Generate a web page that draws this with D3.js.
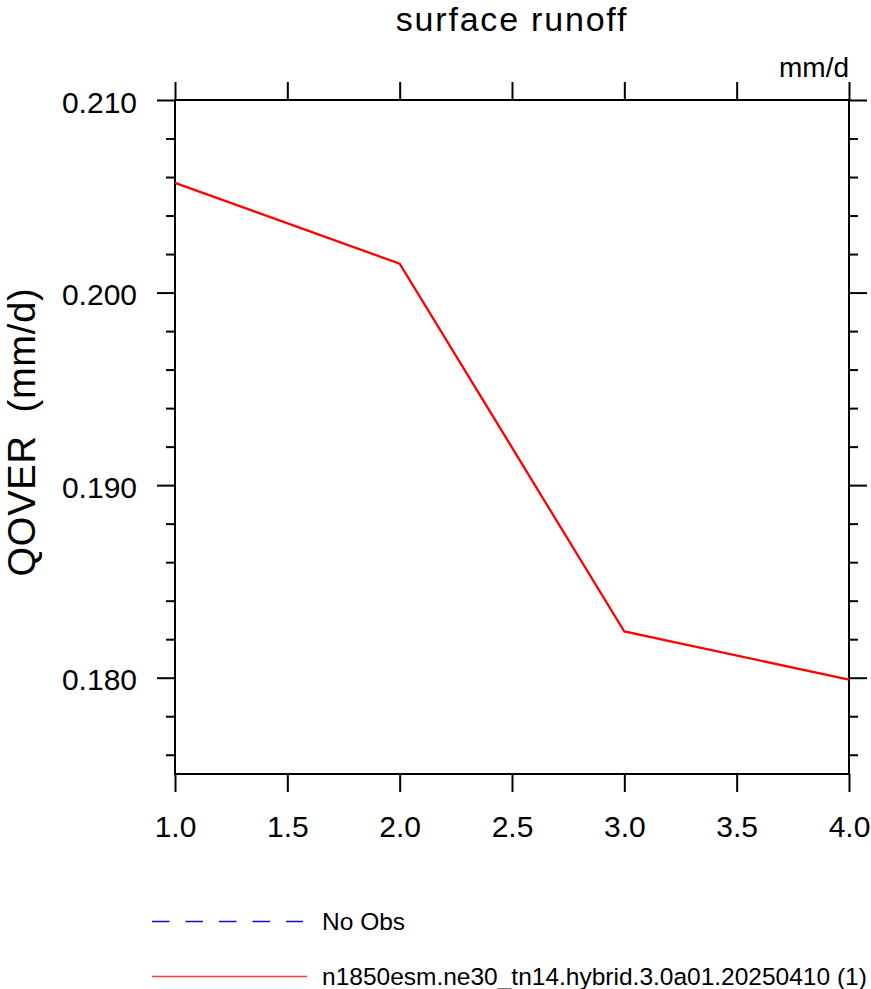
<!DOCTYPE html>
<html>
<head>
<meta charset="utf-8">
<script src="https://cdn.jsdelivr.net/npm/d3@7"></script>
<style>
  body { margin: 0; background: #fff; }
  text { font-family: "Liberation Sans", Arial, Helvetica, sans-serif; fill: #000; }
</style>
</head>
<body>
<div id="chart"></div>
<script>
// data
var cases = [1, 2, 3, 4];
var qover = [0.2057, 0.2015, 0.1824, 0.1799];
var xTicks = [1.0, 1.5, 2.0, 2.5, 3.0, 3.5, 4.0];
var yMajorTicks = [0.180, 0.190, 0.200, 0.210];
var yMinorTicks = [0.176, 0.178, 0.182, 0.184, 0.186, 0.188, 0.192, 0.194, 0.196, 0.198,
                   0.202, 0.204, 0.206, 0.208];
var legendLabels = ["No Obs", "n1850esm.ne30_tn14.hybrid.3.0a01.20250410 (1)"];
var legendColors = ["#1010d0", "#ff3b3b"];
var legendDash = ["17.5,16", null];

var W = 871, H = 989;
var margin = {top: 100, right: 22, bottom: 215, left: 175},
    width = W - margin.left - margin.right,
    height = H - margin.top - margin.bottom;

var svg = d3.select("#chart")
  .append("svg")
    .attr("width", W)
    .attr("height", H);

var g = svg.append("g")
    .attr("transform", "translate(" + margin.left + "," + margin.top + ")");

var x = d3.scaleLinear()
  .domain([1, 4])
  .range([0, width]);

var y = d3.scaleLinear()
  .domain([0.175, 0.210])
  .range([height, 0]);

function styleAxis(sel) {
  sel.select(".domain").remove();
  sel.selectAll("line").attr("stroke", "#000").attr("stroke-width", 2);
  sel.selectAll("text")
    .style("font-family", '"Liberation Sans", Arial, sans-serif')
    .style("font-size", "30px")
    .attr("fill", "#000");
}

// bottom axis with labels
g.append("g")
  .attr("transform", "translate(0," + height + ")")
  .call(d3.axisBottom(x).tickValues(xTicks).tickSize(18).tickSizeOuter(0)
    .tickPadding(24).tickFormat(d3.format(".1f")))
  .call(styleAxis);

// top axis, no labels
g.append("g")
  .call(d3.axisTop(x).tickValues(xTicks).tickSize(18).tickSizeOuter(0).tickFormat(""))
  .call(styleAxis);

// left axis
g.append("g")
  .call(d3.axisLeft(y).tickValues(yMajorTicks).tickSize(18).tickSizeOuter(0)
    .tickPadding(20).tickFormat(d3.format(".3f")))
  .call(styleAxis)
  .selectAll("text").attr("dy", "0.40em");

g.append("g")
  .call(d3.axisLeft(y).tickValues(yMinorTicks).tickSize(9).tickSizeOuter(0).tickFormat(""))
  .call(styleAxis);

// right axis
g.append("g")
  .attr("transform", "translate(" + width + ",0)")
  .call(d3.axisRight(y).tickValues(yMajorTicks).tickSize(18).tickSizeOuter(0).tickFormat(""))
  .call(styleAxis);

g.append("g")
  .attr("transform", "translate(" + width + ",0)")
  .call(d3.axisRight(y).tickValues(yMinorTicks).tickSize(9).tickSizeOuter(0).tickFormat(""))
  .call(styleAxis);

// frame
g.append("rect")
  .attr("width", width)
  .attr("height", height)
  .attr("fill", "none")
  .attr("stroke", "#000")
  .attr("stroke-width", 2);

// the line
var line = d3.line()
  .x(function (d, i) { return x(cases[i]); })
  .y(function (d) { return y(d); });

g.append("path")
  .datum(qover)
  .attr("d", line)
  .attr("fill", "none")
  .attr("stroke", "red")
  .attr("stroke-width", 2.3);

// titles
svg.append("text")
  .attr("x", margin.left + width / 2)
  .attr("y", 31)
  .attr("text-anchor", "middle")
  .style("font-size", "34px")
  .style("letter-spacing", "1.8px")
  .text("surface runoff");

svg.append("text")
  .attr("x", margin.left + width)
  .attr("y", 77)
  .attr("text-anchor", "end")
  .style("font-size", "28px")
  .text("mm/d");

svg.append("text")
  .attr("transform", "translate(35,432) rotate(-90)")
  .attr("text-anchor", "middle")
  .style("font-size", "38px")
  .style("letter-spacing", "0.8px")
  .style("white-space", "pre")
  .attr("xml:space", "preserve")
  .text("QOVER  (mm/d)");

// legend
var legend = svg.append("g")
  .selectAll("g")
  .data(legendLabels)
  .enter()
  .append("g")
    .attr("transform", function (d, i) { return "translate(152," + (921.5 + i * 55) + ")"; });

legend.append("line")
  .attr("x1", 0)
  .attr("x2", function (d, i) { return i === 0 ? 151 : 155; })
  .attr("y1", 0)
  .attr("y2", 0)
  .attr("stroke", function (d, i) { return legendColors[i]; })
  .attr("stroke-width", 1.6)
  .attr("stroke-dasharray", function (d, i) { return legendDash[i]; });

legend.append("text")
  .attr("x", 170)
  .attr("y", 8.5)
  .style("font-size", "24.5px")
  .text(function (d) { return d; });
</script>
</body>
</html>
